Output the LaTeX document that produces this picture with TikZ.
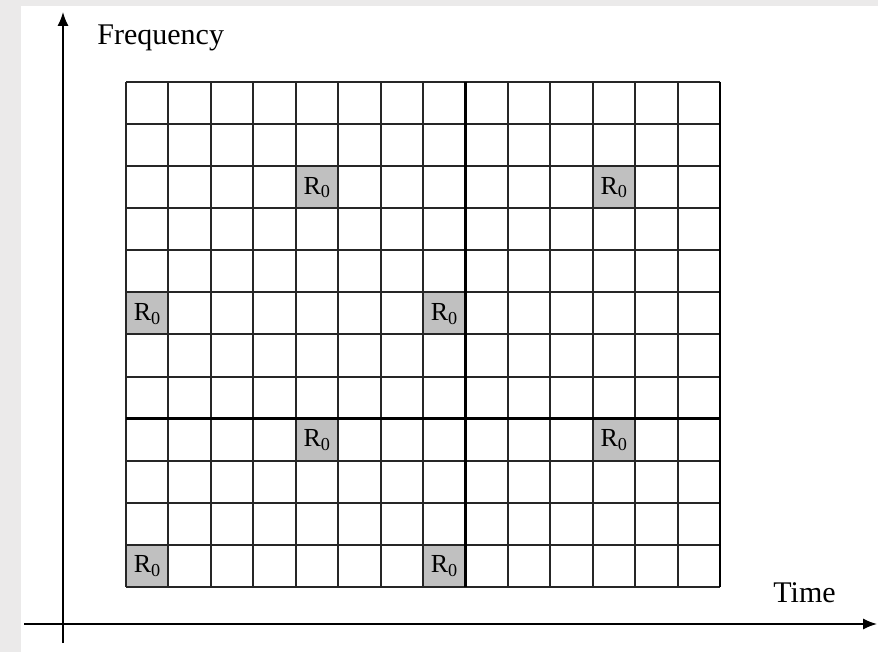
\documentclass[tikz,border=0pt]{standalone}
\usepackage{fontspec}
\setmainfont{Liberation Serif}
\usepackage{tikz}
\usetikzlibrary{arrows.meta,positioning}
\definecolor{pagegray}{HTML}{EBEAEA}
\definecolor{cellgray}{HTML}{C0C0C0}
\begin{document}
\begin{tikzpicture}[
    x=0.5pt,y=-0.5pt,
    cell/.style={fill=cellgray,minimum width=21.2pt,minimum height=21.05pt,inner sep=0pt,anchor=north west,font=\fontsize{13}{13}\selectfont},
    gridline/.style={line width=1pt,black!85},
    thickline/.style={line width=1.3pt,black},
    axis/.style={-{Latex[length=7pt,width=5.5pt]},line width=0.75pt},
    axislabel/.style={anchor=base west,inner sep=0pt,font=\fontsize{15}{18}\selectfont}
]
% page
\fill[pagegray] (0,0) rectangle (878,652);
\fill[white] (21,6) rectangle (878,652);
% reference cells
\foreach \i/\j in {4/2,11/2,0/5,7/5,4/8,11/8,0/11,7/11}
  \node[cell] (r\i-\j) at ({126+\i*42.43},{82+\j*42.08}) {R\textsubscript{0}};
% grid
\foreach \i in {0,...,14}
  \draw[gridline] ({126+\i*42.43},82) -- ({126+\i*42.43},587);
\foreach \j in {0,...,12}
  \draw[gridline] (126,{82+\j*42.08}) -- (720,{82+\j*42.08});
\draw[thickline] ({126+8*42.43},82) -- ({126+8*42.43},587);
\draw[thickline] (126,{82+8*42.08}) -- (720,{82+8*42.08});
\draw[thickline] (720,82) -- (720,587);
% axes
\coordinate (ybot) at (63,643);
\coordinate (ytop) at (63,12);
\coordinate (xleft) at (24,624);
\coordinate (xright) at (877,624);
\draw[axis] (ybot) -- (ytop);
\draw[axis] (xleft) -- (xright);
\node[axislabel] (freq) at (97,45) {Frequency};
\node[axislabel] (time) at (773,602) {Time};
\end{tikzpicture}
\end{document}
